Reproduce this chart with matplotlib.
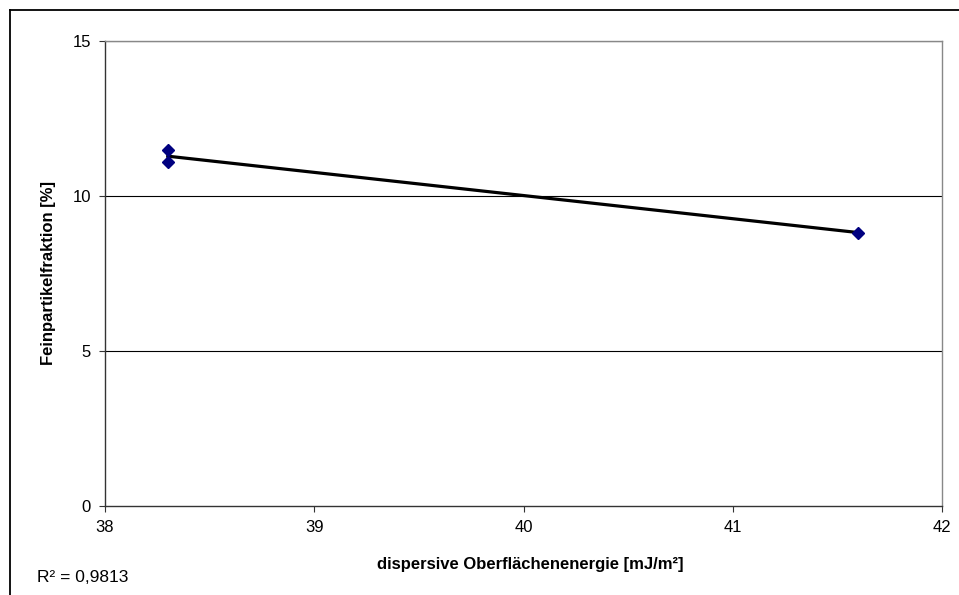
import matplotlib
matplotlib.use("Agg")
import matplotlib.pyplot as plt
from matplotlib.lines import Line2D
import numpy as np

# Messwerte
energie = [38.3, 38.3, 41.6]
feinpartikel = [11.47, 11.08, 8.81]
x_ticks = [38, 39, 40, 41, 42]
y_ticks = [0, 5, 10, 15]

plt.rcParams['font.family'] = ['Liberation Sans', 'DejaVu Sans']

fig = plt.figure(figsize=(9.59, 5.95), dpi=100)
ax = fig.add_axes([105/959, 89.3/595, 837/959, 465/595])

# Gitterlinien
for yv in y_ticks[1:]:
    ax.axhline(yv, color='black', lw=0.8, zorder=1)

# lineare Trendlinie
k, d = np.polyfit(energie, feinpartikel, 1)
xs = np.array([min(energie), max(energie)])
ax.plot(xs, k*xs + d, color='black', lw=2.3, zorder=2)
ax.plot(energie, feinpartikel, linestyle='none', marker='D', markersize=6.5,
        color='#000080', zorder=3)

ax.set_xlim(38, 42)
ax.set_ylim(0, 15)
ax.set_xticks(x_ticks)
ax.set_yticks(y_ticks)
ax.tick_params(labelsize=12, length=4, width=0.8, color='#333333', pad=6)

for s in ['top', 'right']:
    ax.spines[s].set_color('#888888')
    ax.spines[s].set_linewidth(1)
for s in ['left', 'bottom']:
    ax.spines[s].set_color('#333333')
    ax.spines[s].set_linewidth(1)

# Achsentitel
fig.text(530/959, 1 - 565/595, 'dispersive Oberflächenenergie [mJ/m²]',
         fontsize=12, fontweight='bold', ha='center', va='center')
fig.text(49/959, 1 - 273/595, 'Feinpartikelfraktion [%]', fontsize=12,
         fontweight='bold', rotation=90, ha='center', va='center')

fig.text(37/959, 1 - 578/595, 'R² = 0,9813', fontsize=12.5, va='center', ha='left')

# Rahmen des Diagrammbereichs
fig.add_artist(Line2D([9.5/959, 9.5/959], [0, 1 - 9.5/595], color='black',
                      lw=1.3, transform=fig.transFigure))
fig.add_artist(Line2D([9.5/959, 1], [1 - 9.5/595, 1 - 9.5/595], color='black',
                      lw=1.3, transform=fig.transFigure))

plt.savefig("out.png", dpi=100)
